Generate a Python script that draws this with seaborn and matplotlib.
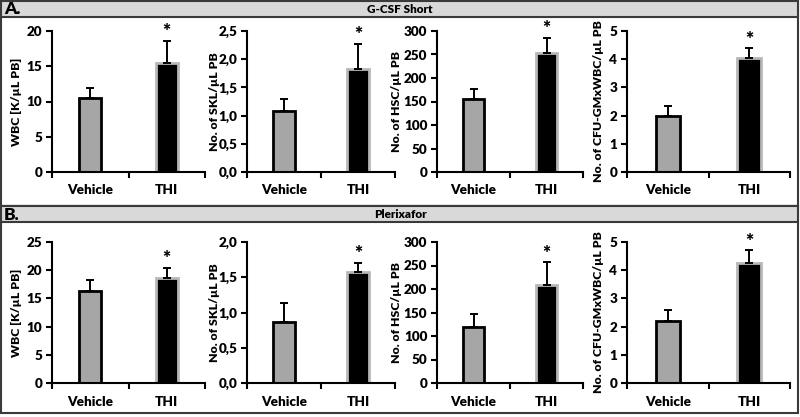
import numpy as np
import pandas as pd
import matplotlib.pyplot as plt
import seaborn as sns
from matplotlib.patches import Rectangle
from matplotlib.ticker import FuncFormatter

groups = ["Vehicle", "THI"]

# A. G-CSF Short
wbc_a = [10.5, 15.5]
wbc_a_err = [1.35, 3.1]
skl_a = [1.09, 1.82]
skl_a_err = [0.20, 0.45]
hsc_a = [155, 253]
hsc_a_err = [22, 32]
cfu_a = [2.0, 4.03]
cfu_a_err = [0.34, 0.35]

# B. Plerixafor
wbc_b = [16.4, 18.65]
wbc_b_err = [1.9, 1.75]
skl_b = [0.86, 1.58]
skl_b_err = [0.27, 0.12]
hsc_b = [119, 209]
hsc_b_err = [27, 48]
cfu_b = [2.19, 4.25]
cfu_b_err = [0.39, 0.45]

ylabels = ["WBC [K/µL PB]", "No. of SKL/µL PB", "No. of HSC/µL PB", "No. of CFU-GMxWBC/µL PB"]
titles = ["A.", "B."]
headers = ["G-CSF Short", "Plerixafor"]

panels = [
    [(wbc_a, wbc_a_err, 20, 5), (skl_a, skl_a_err, 2.5, 0.5), (hsc_a, hsc_a_err, 300, 50), (cfu_a, cfu_a_err, 5, 1)],
    [(wbc_b, wbc_b_err, 25, 5), (skl_b, skl_b_err, 2.0, 0.5), (hsc_b, hsc_b_err, 300, 50), (cfu_b, cfu_b_err, 5, 1)],
]

sns.set_style("white")
plt.rcParams['font.family'] = ['Lato', 'DejaVu Sans']
plt.rcParams['font.weight'] = 'bold'
plt.rcParams['text.color'] = 'black'
plt.rcParams['axes.labelcolor'] = 'black'
plt.rcParams['xtick.color'] = 'black'
plt.rcParams['ytick.color'] = 'black'

W, H = 800, 417
fig = plt.figure(figsize=(8, 4.17), dpi=100)

def fx(px):
    return px / W

def fy(py):
    return 1 - py / H

# panel frames + header bars
box_tops = [1, 206]
box_bottoms = [206, 413]
for i in range(2):
    top, bot = box_tops[i], box_bottoms[i]
    fig.patches.append(Rectangle((fx(1), fy(bot)), fx(797), (bot - top) / H, transform=fig.transFigure,
                                 facecolor="white", edgecolor="#3a3a3a", lw=1.5, zorder=-2))
    fig.patches.append(Rectangle((fx(1), fy(top + 16)), fx(797), 16 / H, transform=fig.transFigure,
                                 facecolor="#d9d9d9", edgecolor="#3a3a3a", lw=1.5, zorder=-1))
    fig.text(fx(4), fy(top + 8.5), titles[i], fontsize=12.5, fontweight='heavy', ha='left', va='center')
    fig.text(0.5, fy(top + 8.5), headers[i], fontsize=8.5, fontweight='heavy', ha='center', va='center')

# axes positions in pixels
xs = [(52, 205), (247, 395), (437, 583), (627, 790)]
label_x = [16, 214, 397, 598]
ys = [(31, 172), (242, 383)]

comma = FuncFormatter(lambda v, p: f"{v:.1f}".replace(".", ","))

for r in range(2):
    y0, y1 = ys[r]
    for c in range(4):
        vals, errs, ymax, step = panels[r][c]
        x0, x1 = xs[c]
        ax = fig.add_axes([fx(x0), fy(y1), (x1 - x0) / W, (y1 - y0) / H])
        sns.barplot(x=groups, y=vals, hue=groups, palette=["#a6a6a6", "black"], width=0.29,
                    legend=False, ax=ax, zorder=2)
        for patch, ec in zip(ax.patches, ["black", "#b8b8b8"]):
            patch.set_edgecolor(ec)
            patch.set_linewidth(2)
        ax.errorbar([0, 1], vals, yerr=[[0, 0], errs], fmt='none', ecolor='black',
                    elinewidth=1.4, capsize=3, capthick=1.4, zorder=3)
        # significance star above THI
        ax.annotate("*", xy=(1, vals[1] + errs[1]), xytext=(0, 0.5), textcoords='offset points',
                    ha='center', va='bottom', fontsize=14, fontweight='heavy', annotation_clip=False)
        ax.set_xlim(-0.5, 1.5)
        ax.set_ylim(0, ymax)
        ax.set_yticks(np.arange(0, ymax + step / 2, step))
        if c == 1:
            ax.yaxis.set_major_formatter(comma)
        ax.set_xticks([0, 1])
        ax.set_xticklabels(groups)
        ax.set_xticks([-0.5, 0.5, 1.5], minor=True)
        ax.tick_params(axis='x', which='major', length=0, pad=9, labelsize=9.7)
        ax.tick_params(axis='x', which='minor', length=4, width=1.5, direction='out', color='black', bottom=True)
        ax.tick_params(axis='y', length=4, width=1.5, direction='out', color='black', pad=3, labelsize=9.7, left=True)
        for lab in ax.get_xticklabels() + ax.get_yticklabels():
            lab.set_fontweight('heavy')
        sns.despine(ax=ax)
        for s in ["left", "bottom"]:
            ax.spines[s].set_linewidth(1.5)
            ax.spines[s].set_color("black")
        ax.set_xlabel("")
        ax.set_ylabel(ylabels[c], fontsize=8.8, fontweight='heavy')
        ax.yaxis.set_label_coords((label_x[c] - x0) / (x1 - x0), 0.5)
        ax.yaxis.label.set_va('center')
        ax.set_facecolor("none")

fig.savefig("out.png", dpi=100)
